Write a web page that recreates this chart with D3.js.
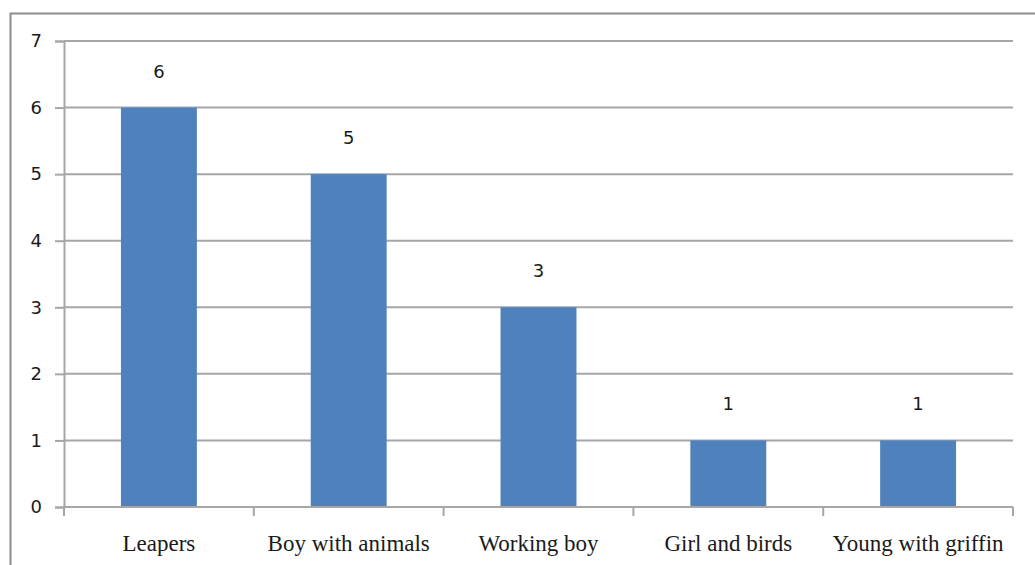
<!DOCTYPE html>
<html>
<head>
<meta charset="utf-8">
<script src="https://cdn.jsdelivr.net/npm/d3@7"></script>
<style>
  html, body { margin: 0; padding: 0; background: #fff; }
  svg { display: block; }
</style>
</head>
<body>
<svg id="chart" width="1035" height="565"></svg>
<script>
// Number of works per theme
const categories = ["Leapers", "Boy with animals", "Working boy", "Girl and birds", "Young with griffin"];
const counts = [6, 5, 3, 1, 1];
const yTicks = [0, 1, 2, 3, 4, 5, 6, 7];

const svg = d3.select("#chart");
const plot = { left: 64, right: 1013, top: 41, bottom: 507 };

// outer chart frame
svg.append("rect")
  .attr("x", 10.5).attr("y", 13.5)
  .attr("width", 1040).attr("height", 570)
  .attr("fill", "none").attr("stroke", "#8c8c8c").attr("stroke-width", 2);

const x = d3.scaleBand().domain(categories).range([plot.left, plot.right]).padding(0);
const y = d3.scaleLinear().domain([0, 7]).range([plot.bottom, plot.top]);

// horizontal gridlines
svg.append("g").selectAll("line").data(yTicks.filter(d => d > 0)).join("line")
  .attr("x1", plot.left).attr("x2", plot.right)
  .attr("y1", d => y(d)).attr("y2", d => y(d))
  .attr("stroke", "#a6a6a6").attr("stroke-width", 2);

// y axis
const yAxis = svg.append("g")
  .attr("transform", `translate(${plot.left},0)`)
  .call(d3.axisLeft(y).tickValues(yTicks).tickSize(9).tickPadding(13).tickFormat(d3.format("d")));
yAxis.select(".domain").attr("stroke", "#a6a6a6").attr("stroke-width", 2);
yAxis.selectAll(".tick line").attr("stroke", "#a6a6a6").attr("stroke-width", 2);
yAxis.selectAll(".tick text")
  .attr("fill", "#1a1a1a")
  .style("font-family", "'DejaVu Sans', sans-serif")
  .style("font-size", "18px");

// bars
const barFrac = 0.4;
svg.append("g").selectAll("rect").data(categories).join("rect")
  .attr("x", (d) => x(d) + x.bandwidth() * (1 - barFrac) / 2)
  .attr("width", x.bandwidth() * barFrac)
  .attr("y", (d, i) => y(counts[i]))
  .attr("height", (d, i) => y(0) - y(counts[i]))
  .attr("fill", "#4f81bd");

// x axis: ticks on band boundaries
const xAxis = svg.append("g").attr("transform", `translate(0,${plot.bottom})`);
xAxis.append("line")
  .attr("x1", plot.left).attr("x2", plot.right)
  .attr("stroke", "#a6a6a6").attr("stroke-width", 2);
const boundaries = categories.map(d => x(d)).concat([x(categories[categories.length - 1]) + x.bandwidth()]);
xAxis.selectAll("line.tk").data(boundaries).join("line").attr("class", "tk")
  .attr("x1", d => d).attr("x2", d => d)
  .attr("y1", 0).attr("y2", 9)
  .attr("stroke", "#a6a6a6").attr("stroke-width", 2);
xAxis.selectAll("text").data(categories).join("text")
  .attr("x", d => x(d) + x.bandwidth() / 2)
  .attr("y", 44)
  .attr("text-anchor", "middle")
  .attr("fill", "#1a1a1a")
  .style("font-family", "'Liberation Serif', 'Times New Roman', serif")
  .style("font-size", "23px")
  .text(d => d);

// value labels
svg.append("g").selectAll("text").data(categories).join("text")
  .attr("x", d => x(d) + x.bandwidth() / 2)
  .attr("y", (d, i) => y(counts[i]) - 30)
  .attr("text-anchor", "middle")
  .attr("fill", "#1a1a1a")
  .style("font-family", "'DejaVu Sans', sans-serif")
  .style("font-size", "18px")
  .text((d, i) => counts[i]);
</script>
</body>
</html>
